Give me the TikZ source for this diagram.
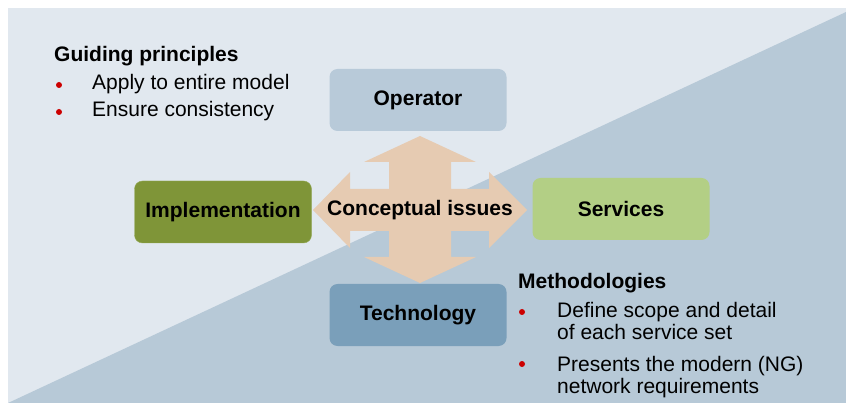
\documentclass[tikz,border=0pt]{standalone}
\usepackage{fontspec}
\setmainfont{Liberation Sans}
\definecolor{palebg}{HTML}{E1E8EF}
\definecolor{steelbg}{HTML}{B7C9D7}
\definecolor{opfill}{HTML}{B8CAD9}
\definecolor{implfill}{HTML}{7F9538}
\definecolor{impldraw}{HTML}{93A955}
\definecolor{servfill}{HTML}{B3CF85}
\definecolor{techfill}{HTML}{7A9FBA}
\definecolor{crossfill}{HTML}{E6CBB2}
\definecolor{dotred}{HTML}{CC0000}

\begin{document}
\begin{tikzpicture}[x=1pt,y=-1pt,
    box/.style={rounded corners=8pt,minimum width=177pt,minimum height=62pt,inner sep=0pt,
      font=\bfseries\fontsize{21}{24}\selectfont},
    heading/.style={anchor=base west,inner sep=0pt,font=\bfseries\fontsize{21}{24}\selectfont},
    item/.style={anchor=base west,inner sep=0pt,align=left,font=\fontsize{21}{22}\selectfont},
    dot/.style={circle,fill=dotred,inner sep=0pt,minimum size=6pt}]
  \useasboundingbox (0,0) rectangle (846,403);
  %% background: pale panel, darker lower triangle
  \fill[palebg] (8,8) rectangle (846,403);
  \fill[steelbg] (8,403) -- (846,12) -- (846,403) -- cycle;
  %% four-way arrow round the centre
  \coordinate (core) at (420,210);
  \fill[crossfill,shift={(core)}] (0,-74) -- (56,-48) -- (31,-48) -- (31,-21)
    -- (69,-21) -- (69,-38) -- (107,0) -- (69,38) -- (69,21) -- (31,21)
    -- (31,47) -- (56,47) -- (0,73) -- (-56,47) -- (-31,47) -- (-31,21)
    -- (-70,21) -- (-70,38) -- (-107,0) -- (-70,-38) -- (-70,-21) -- (-31,-21)
    -- (-31,-48) -- (-56,-48) -- cycle;
  \node[font=\bfseries\fontsize{21}{24}\selectfont] (issues) at (core) {Conceptual issues};
  %% the four boxes
  \node[box,fill=opfill] (operator) at (418,100) {Operator};
  \node[box,fill=implfill,draw=impldraw] (impl) at (223,212) {Implementation};
  \node[box,fill=servfill] (services) at (621,209) {Services};
  \node[box,fill=techfill] (tech) at (418,315) {Technology};
  %% upper left notes
  \node[heading] (guide) at (54,62) {Guiding principles};
  \node[dot] (g1) at (59,85) {};
  \node[item] (apply) at (92,90) {Apply to entire model};
  \node[dot] (g2) at (59,112) {};
  \node[item] (ensure) at (92,117) {Ensure consistency};
  %% lower right notes (base = last line)
  \node[heading] (method) at (518,289) {Methodologies};
  \node[dot] (m1) at (522,312) {};
  \node[item] (define) at (557,340) {Define scope and detail\\of each service set};
  \node[dot] (m2) at (522,364) {};
  \node[item] (present) at (557,393) {Presents the modern (NG)\\network requirements};
\end{tikzpicture}
\end{document}
